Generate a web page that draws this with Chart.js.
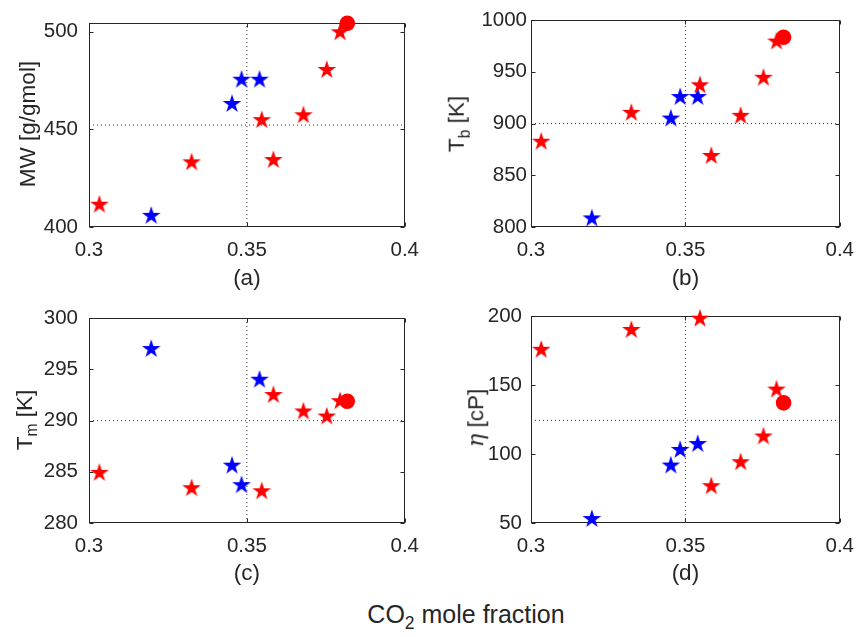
<!DOCTYPE html>
<html>
<head>
<meta charset="utf-8">
<script src="https://cdn.jsdelivr.net/npm/chart.js@4.4.1/dist/chart.umd.min.js"></script>
<style>
  body { margin: 0; background: #fff; }
  #fig { position: relative; width: 865px; height: 637px; font-family: 'Liberation Sans', Arial, sans-serif; color: #262626; }
  #fig canvas { position: absolute; }
  .ylab { position: absolute; transform: translate(-50%, -50%) rotate(-90deg); white-space: nowrap; font-size: 22.5px; line-height: 1; }
  .ylab sub, #xlab sub { font-size: 70%; vertical-align: -0.35em; line-height: 0; }
  .ylab i { font-family: 'DejaVu Serif', serif; }
  #xlab { position: absolute; left: 466px; top: 614px; transform: translate(-50%, -50%); white-space: nowrap; font-size: 25px; line-height: 1; }
</style>
</head>
<body>
<div id="fig">
  <canvas id="pa" width="430" height="295" style="left:0;top:0"></canvas>
  <canvas id="pb" width="435" height="295" style="left:430px;top:0"></canvas>
  <canvas id="pc" width="430" height="295" style="left:0;top:295px"></canvas>
  <canvas id="pd" width="435" height="295" style="left:430px;top:295px"></canvas>
  <div class="ylab" style="left:28px;top:124px">MW [g/gmol]</div>
  <div class="ylab" style="left:457px;top:124px">T<sub>b</sub> [K]</div>
  <div class="ylab" style="left:25px;top:420px">T<sub>m</sub> [K]</div>
  <div class="ylab" style="left:476px;top:418px"><i>η</i> [cP]</div>
  <div id="xlab">CO<sub>2</sub> mole fraction</div>
</div>
<script>
// CO2 mole fraction of each sample
const redX = [0.3033, 0.3325, 0.3547, 0.3584, 0.3679, 0.3753, 0.3795];
const blueX = [0.3197, 0.3453, 0.3483, 0.3540];
const circleX = [0.3818];

// (a) molecular weight
const mwRed = [411.4, 433.1, 454.7, 434.3, 457.2, 480.4, 499.7];
const mwBlue = [405.7, 463.0, 475.4, 475.4];
const mwCircle = [504.3];

// (b) boiling temperature
const tbRed = [882.4, 910.3, 936.9, 868.6, 907.4, 944.2, 979.2];
const tbBlue = [808.3, 904.8, 925.6, 925.6];
const tbCircle = [983.3];

// (c) melting temperature
const tmRed = [284.9, 283.4, 283.1, 292.5, 290.9, 290.4, 291.9];
const tmBlue = [297.0, 285.6, 283.7, 294.0];
const tmCircle = [291.9];

// (d) viscosity
const etaRed = [175.7, 190.1, 198.3, 76.7, 94.1, 112.8, 146.8];
const etaBlue = [52.9, 91.7, 103.0, 107.3];
const etaCircle = [137.2];

// dotted reference lines
const refX = 0.35;
const refY = [452.2, 900, 290, 124.5];

const xLim = [0.3, 0.4];
const xTicks = [0.3, 0.35, 0.4];
const yLims = [[400, 504.3], [800, 1000], [280, 300], [50, 200]];
const yTicks = [
    [400, 450, 500],
    [800, 850, 900, 950, 1000],
    [280, 285, 290, 295, 300],
    [50, 100, 150, 200]
];
const panelLabels = ['(a)', '(b)', '(c)', '(d)'];

const AXIS_COLOR = '#262626';
const FONT = "'Liberation Sans', Arial, sans-serif";

function starImage(color) {
    const R = 9.8, r = R * 0.382, s = 22;
    const c = document.createElement('canvas');
    c.width = s; c.height = s;
    const g = c.getContext('2d');
    g.fillStyle = color;
    g.beginPath();
    for (let i = 0; i < 10; i++) {
        const rad = i % 2 ? r : R;
        const ang = -Math.PI / 2 + i * Math.PI / 5;
        const px = s / 2 + rad * Math.cos(ang);
        const py = s / 2 + rad * Math.sin(ang);
        if (i === 0) g.moveTo(px, py); else g.lineTo(px, py);
    }
    g.closePath();
    g.fill();
    return c;
}
const redStar = starImage('#ff0000');
const blueStar = starImage('#0000ff');

// box round the axes with inward ticks on all four sides
const boxPlugin = {
    id: 'matlabBox',
    beforeDatasetsDraw(chart) {
        const { ctx, chartArea: a, scales: { x, y } } = chart;
        const L = Math.round(a.left) + 0.5, R = Math.round(a.right) - 0.5;
        const T = Math.round(a.top) + 0.5, B = Math.round(a.bottom) - 0.5;
        const tl = 4;
        ctx.save();
        ctx.strokeStyle = AXIS_COLOR;
        ctx.lineWidth = 1;
        ctx.strokeRect(L, T, R - L, B - T);
        ctx.beginPath();
        x.ticks.forEach(t => {
            const px = Math.round(x.getPixelForValue(t.value)) + 0.5;
            ctx.moveTo(px, B); ctx.lineTo(px, B - tl);
            ctx.moveTo(px, T); ctx.lineTo(px, T + tl);
        });
        y.ticks.forEach(t => {
            const py = Math.round(y.getPixelForValue(t.value)) + 0.5;
            ctx.moveTo(L, py); ctx.lineTo(L + tl, py);
            ctx.moveTo(R, py); ctx.lineTo(R - tl, py);
        });
        ctx.stroke();
        ctx.restore();
    }
};

function toPoints(xs, ys) {
    return xs.map((v, i) => ({ x: v, y: ys[i] }));
}

function makePanel(canvasId, idx, red, blue, circle, area, yPad) {
    const canvas = document.getElementById(canvasId);
    const W = canvas.width, H = canvas.height;
    const [ymin, ymax] = yLims[idx];

    const datasets = [
        {
            data: toPoints(circleX, circle),
            pointStyle: 'circle', pointRadius: 7.8,
            backgroundColor: '#ff0000', borderColor: '#ff0000', borderWidth: 0,
            clip: false
        },
        {
            data: toPoints(redX, red),
            pointStyle: redStar, clip: false
        },
        {
            data: toPoints(blueX, blue),
            pointStyle: blueStar, clip: false
        },
        {
            data: [{ x: refX, y: ymin }, { x: refX, y: ymax }],
            showLine: true, pointRadius: 0,
            borderColor: '#333', borderWidth: 1, borderDash: [1, 3]
        },
        {
            data: [{ x: xLim[0], y: refY[idx] }, { x: xLim[1], y: refY[idx] }],
            showLine: true, pointRadius: 0,
            borderColor: '#333', borderWidth: 1, borderDash: [1, 3]
        }
    ];

    return new Chart(canvas, {
        type: 'scatter',
        data: { datasets },
        options: {
            responsive: false,
            animation: false,
            events: [],
            layout: { padding: { top: area.top, right: W - area.right, left: 0, bottom: 0 } },
            plugins: { legend: { display: false }, tooltip: { enabled: false } },
            scales: {
                x: {
                    type: 'linear', min: xLim[0], max: xLim[1],
                    grid: { display: false, drawTicks: false },
                    border: { display: false },
                    afterBuildTicks: s => { s.ticks = xTicks.map(v => ({ value: v })); },
                    afterFit: s => { s.height = H - area.bottom; },
                    ticks: {
                        padding: 11, maxRotation: 0, color: AXIS_COLOR,
                        font: { family: FONT, size: 20.5 },
                        callback: v => String(v)
                    },
                    title: {
                        display: true, text: panelLabels[idx], color: AXIS_COLOR,
                        font: { family: FONT, size: 22.5 },
                        padding: { top: 3, bottom: 3 }
                    }
                },
                y: {
                    type: 'linear', min: ymin, max: ymax,
                    grid: { display: false, drawTicks: false },
                    border: { display: false },
                    afterBuildTicks: s => { s.ticks = yTicks[idx].map(v => ({ value: v })); },
                    afterFit: s => { s.width = area.left; },
                    ticks: {
                        padding: yPad, color: AXIS_COLOR,
                        font: { family: FONT, size: 20.5 },
                        callback: v => String(v)
                    }
                }
            }
        },
        plugins: [boxPlugin]
    });
}

makePanel('pa', 0, mwRed, mwBlue, mwCircle, { left: 89, right: 408, top: 20, bottom: 227 }, 11);
makePanel('pb', 1, tbRed, tbBlue, tbCircle, { left: 101, right: 420, top: 20, bottom: 227 }, 4);
makePanel('pc', 2, tmRed, tmBlue, tmCircle, { left: 89, right: 408, top: 20, bottom: 228 }, 11);
makePanel('pd', 3, etaRed, etaBlue, etaCircle, { left: 101, right: 420, top: 20, bottom: 228 }, 9);
</script>
</body>
</html>
